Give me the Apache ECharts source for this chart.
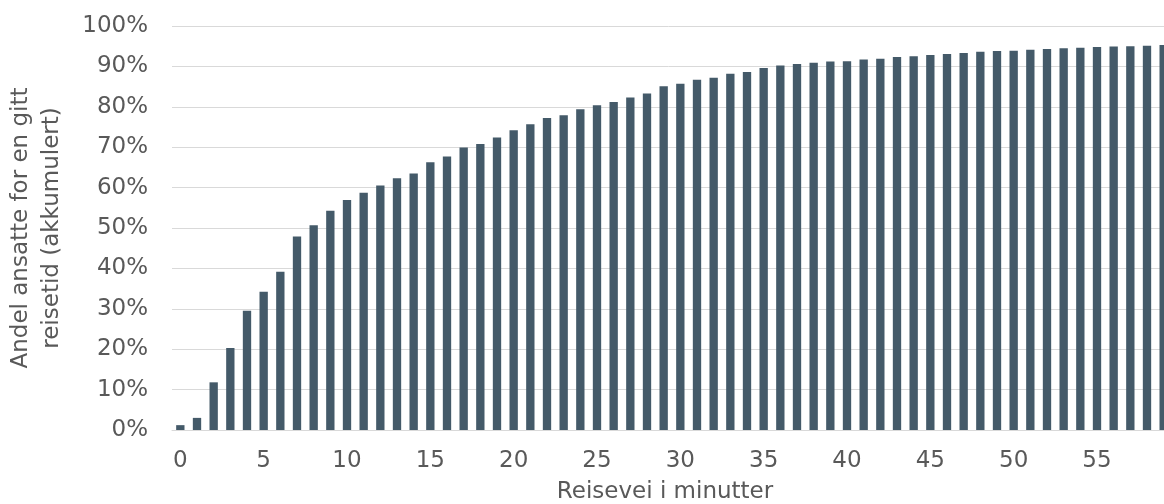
<!DOCTYPE html>
<html>
<head>
<meta charset="utf-8">
<script src="https://cdn.jsdelivr.net/npm/echarts@6/dist/echarts.min.js"></script>
<style>
html,body{margin:0;padding:0;background:#fff;}
#chart{width:1164px;height:504px;}
</style>
</head>
<body>
<div id="chart"></div>
<script>
const categories = [];
for (let i = 0; i <= 59; i++) categories.push(String(i));
const values = [
  1.2, 3.0, 11.8, 20.3, 29.5, 34.2, 39.2, 47.9, 50.7, 54.3,
  56.9, 58.7, 60.5, 62.3, 63.5, 66.3, 67.7, 69.9, 70.8, 72.4,
  74.2, 75.7, 77.2, 77.9, 79.4, 80.4, 81.2, 82.3, 83.3, 85.1,
  85.7, 86.7, 87.2, 88.2, 88.6, 89.6, 90.2, 90.6, 90.9, 91.2,
  91.3, 91.7, 91.9, 92.3, 92.5, 92.8, 93.1, 93.3, 93.6, 93.8,
  93.9, 94.1, 94.3, 94.5, 94.6, 94.8, 94.9, 95.0, 95.1, 95.3
];
const yTitle = 'Andel ansatte for en gitt\nreisetid (akkumulert)';
const xTitle = 'Reisevei i minutter';

const chart = echarts.init(document.getElementById('chart'), null, {renderer: 'canvas'});
const font = 'DejaVu Sans';
const textColor = '#595959';
chart.setOption({
  animation: false,
  backgroundColor: '#ffffff',
  grid: {left: 172, right: -8, top: 26, bottom: 74, containLabel: false, outerBoundsMode: 'none'},
  xAxis: {
    type: 'category',
    data: categories,
    axisTick: {show: false},
    axisLine: {show: true, lineStyle: {color: '#d9d9d9', width: 1}},
    axisLabel: {interval: 4, color: textColor, fontFamily: font, fontSize: 23, margin: 20},
    name: xTitle,
    nameLocation: 'middle',
    nameGap: 51,
    nameTextStyle: {color: textColor, fontFamily: font, fontSize: 23, padding: [0, 14, 0, 0]}
  },
  yAxis: {
    type: 'value',
    min: 0, max: 100, interval: 10,
    axisLine: {show: false},
    axisTick: {show: false},
    splitLine: {lineStyle: {color: '#d9d9d9', width: 1}},
    axisLabel: {formatter: '{value}%', color: textColor, fontFamily: font, fontSize: 23, margin: 24},
    name: yTitle,
    nameLocation: 'middle',
    nameGap: 104,
    nameRotate: 90,
    nameTextStyle: {color: textColor, fontFamily: font, fontSize: 23, lineHeight: 31, align: 'center'}
  },
  series: [{
    type: 'bar',
    data: values,
    barWidth: '50%',
    itemStyle: {color: '#445a69'}
  }]
});
</script>
</body>
</html>
